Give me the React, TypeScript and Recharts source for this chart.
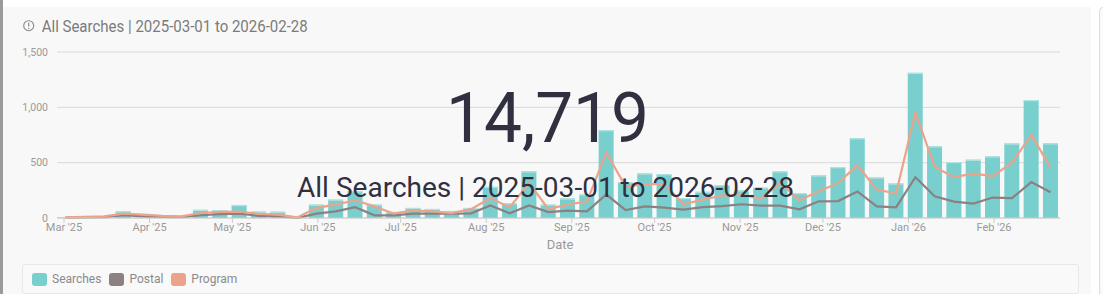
import React from 'react';
import { ComposedChart, Bar, Line, XAxis, YAxis, CartesianGrid } from 'recharts';

const weekStarts = [
  '2025-03-01','2025-03-08','2025-03-15','2025-03-22','2025-03-29',
  '2025-04-05','2025-04-12','2025-04-19','2025-04-26',
  '2025-05-03','2025-05-10','2025-05-17','2025-05-24','2025-05-31',
  '2025-06-07','2025-06-14','2025-06-21','2025-06-28',
  '2025-07-05','2025-07-12','2025-07-19','2025-07-26',
  '2025-08-02','2025-08-09','2025-08-16','2025-08-23','2025-08-30',
  '2025-09-06','2025-09-13','2025-09-20','2025-09-27',
  '2025-10-04','2025-10-11','2025-10-18','2025-10-25',
  '2025-11-01','2025-11-08','2025-11-15','2025-11-22','2025-11-29',
  '2025-12-06','2025-12-13','2025-12-20','2025-12-27',
  '2026-01-03','2026-01-10','2026-01-17','2026-01-24','2026-01-31',
  '2026-02-07','2026-02-14','2026-02-21',
];

const searches = [
  5, 3, 3, 60, 3, 3, 5, 74, 72, 118, 58, 57, 3,
  121, 166, 242, 121, 55, 91, 82, 64, 91,
  282, 133, 422, 121, 177, 212, 794, 324, 403, 397,
  180, 237, 298, 250, 274, 422, 225, 385, 460, 721,
  366, 312, 1312, 648, 506, 527, 557, 673, 1066, 675,
];

const postal = [
  3, 5, 8, 25, 15, 10, 8, 25, 35, 40, 20, 15, 2,
  39, 60, 97, 24, 24, 39, 39, 39, 42,
  113, 42, 113, 53, 66, 60, 212, 72, 105, 94,
  75, 98, 108, 124, 112, 112, 78, 151, 153, 240,
  105, 97, 369, 197, 148, 130, 185, 179, 324, 233,
];

const program = [
  5, 10, 15, 40, 30, 20, 15, 45, 55, 57, 38, 30, 5,
  91, 121, 160, 105, 39, 69, 60, 45, 80,
  180, 95, 315, 82, 121, 151, 591, 285, 306, 306,
  124, 166, 203, 212, 173, 318, 160, 242, 315, 477,
  257, 221, 954, 460, 369, 400, 378, 500, 751, 455,
];

const monthTickDates = [
  '2025-03-01','2025-04-01','2025-05-01','2025-06-01','2025-07-01','2025-08-01',
  '2025-09-01','2025-10-01','2025-11-01','2025-12-01','2026-01-01','2026-02-01',
];
const monthTickLabels = [
  "Mar '25","Apr '25","May '25","Jun '25","Jul '25","Aug '25",
  "Sep '25","Oct '25","Nov '25","Dec '25","Jan '26","Feb '26",
];

const yTicks = [0, 500, 1000, 1500];

const DAY = 86400000;
const toTs = (s: string) => Date.parse(s + 'T00:00:00Z');
const HALF_DAY = DAY / 2;

const data = weekStarts.map((d, i) => ({
  t: toTs(d) + HALF_DAY,
  searches: searches[i],
  postal: postal[i],
  program: program[i],
}));

const monthTicks = monthTickDates.map(toTs);
const labelFor = (v: number) => {
  const i = monthTicks.indexOf(v);
  return i >= 0 ? monthTickLabels[i] : '';
};

const xDomain = [toTs('2025-03-01') - 2.54 * DAY, toTs('2025-03-01') + 360.9 * DAY];

const C_SEARCH = '#79cfcd';
const C_POSTAL = '#8c8082';
const C_PROGRAM = '#eba38c';
const FONT = 'Roboto, "Noto Sans", sans-serif';

const BarShape = (p: any) => {
  const { x, y, width, height } = p;
  if (!height || height <= 0) return null;
  return (
    <g>
      <rect x={x} y={y} width={width} height={height} fill={C_SEARCH} />
      <rect x={x} y={y} width={width} height={Math.min(1.2, height)} fill="#b3e3e1" />
    </g>
  );
};

const legendItems = [
  { name: 'Searches', color: C_SEARCH },
  { name: 'Postal', color: C_POSTAL },
  { name: 'Program', color: C_PROGRAM },
];

export default function App() {
  return (
    <div style={{ position: 'absolute', left: 0, top: 0, width: 1103, height: 294, background: '#ffffff', overflow: 'hidden', fontFamily: FONT }}>
      <div style={{ position: 'absolute', left: 0, top: 0, width: 3, height: 294, background: '#9a9a9a' }} />
      <div style={{ position: 'absolute', left: 3, top: 7, width: 1088, height: 287, background: '#f8f8f8' }} />
      <div style={{ position: 'absolute', left: 1099, top: 7, width: 20, height: 300, border: '1px solid #dcdcdc', borderRadius: 4, background: '#fafafa' }} />

      <div style={{ position: 'absolute', left: 0, top: 0 }}>
        <ComposedChart width={1103} height={294} data={data} margin={{ top: 52, right: 43, left: 0, bottom: 0 }}>
          <CartesianGrid horizontal vertical={false} stroke="#d9d9d9" strokeWidth={1} />
          <XAxis
            dataKey="t"
            type="number"
            scale="time"
            domain={xDomain}
            allowDataOverflow
            ticks={monthTicks}
            tickFormatter={labelFor}
            interval={0}
            height={76}
            axisLine={{ stroke: '#cccccc' }}
            tickLine={{ stroke: '#cccccc' }}
            tickSize={5}
            tickMargin={0}
            tick={{ fill: '#9a9a9a', fontSize: 11, fontFamily: FONT }}
          />
          <YAxis
            type="number"
            domain={[0, 1500]}
            ticks={yTicks}
            width={57}
            axisLine={false}
            tickLine={false}
            tickSize={6}
            tickMargin={3}
            tickFormatter={(v: number) => v.toLocaleString('en-US')}
            tick={{ fill: '#9a9a9a', fontSize: 10.5, fontFamily: FONT }}
          />
          <Bar dataKey="searches" barSize={15} shape={<BarShape />} isAnimationActive={false} />
          <Line dataKey="postal" stroke={C_POSTAL} strokeWidth={2.2} dot={false} activeDot={false} isAnimationActive={false} />
          <Line dataKey="program" stroke={C_PROGRAM} strokeWidth={2.2} dot={false} activeDot={false} isAnimationActive={false} />
        </ComposedChart>
      </div>

      <svg width={1103} height={294} style={{ position: 'absolute', left: 0, top: 0, pointerEvents: 'none' }}>
        <circle cx={28.7} cy={25.7} r={5} fill="none" stroke="#8a8a8a" strokeWidth={1.1} />
        <line x1={28.7} y1={22.8} x2={28.7} y2={26.6} stroke="#8a8a8a" strokeWidth={1.2} />
        <circle cx={28.7} cy={28.4} r={0.7} fill="#8a8a8a" />
        <text x={41.7} y={32.3} fontSize={16} fill="#7b7b7b" fontFamily={FONT} textLength={266} lengthAdjust="spacingAndGlyphs">All Searches | 2025-03-01 to 2026-02-28</text>

        <text x={547.5} y={141.7} fontSize={70} fill="#303041" fontFamily={FONT} textAnchor="middle" textLength={203} lengthAdjust="spacingAndGlyphs">14,719</text>
        <text x={297} y={197.3} fontSize={27} fill="#303041" fontFamily={FONT} textLength={497} lengthAdjust="spacingAndGlyphs">All Searches | 2025-03-01 to 2026-02-28</text>

        <text x={560} y={248.5} fontSize={13} fill="#9a9a9a" fontFamily={FONT} textAnchor="middle">Date</text>
      </svg>

      <div style={{ position: 'absolute', left: 22, top: 264, width: 1055, height: 28, border: '1px solid #e8e8e8', borderRadius: 3, background: '#f9f9f9', display: 'flex', alignItems: 'center', boxSizing: 'content-box' }}>
        {legendItems.map((it, i) => (
          <div key={it.name} style={{ display: 'flex', alignItems: 'center', marginLeft: i === 0 ? 9 : 8 }}>
            <div style={{ width: 15, height: 13, borderRadius: 3, background: it.color }} />
            <span style={{ marginLeft: 5, fontSize: 12, color: '#8a8a8a', fontFamily: FONT }}>{it.name}</span>
          </div>
        ))}
      </div>
    </div>
  );
}
